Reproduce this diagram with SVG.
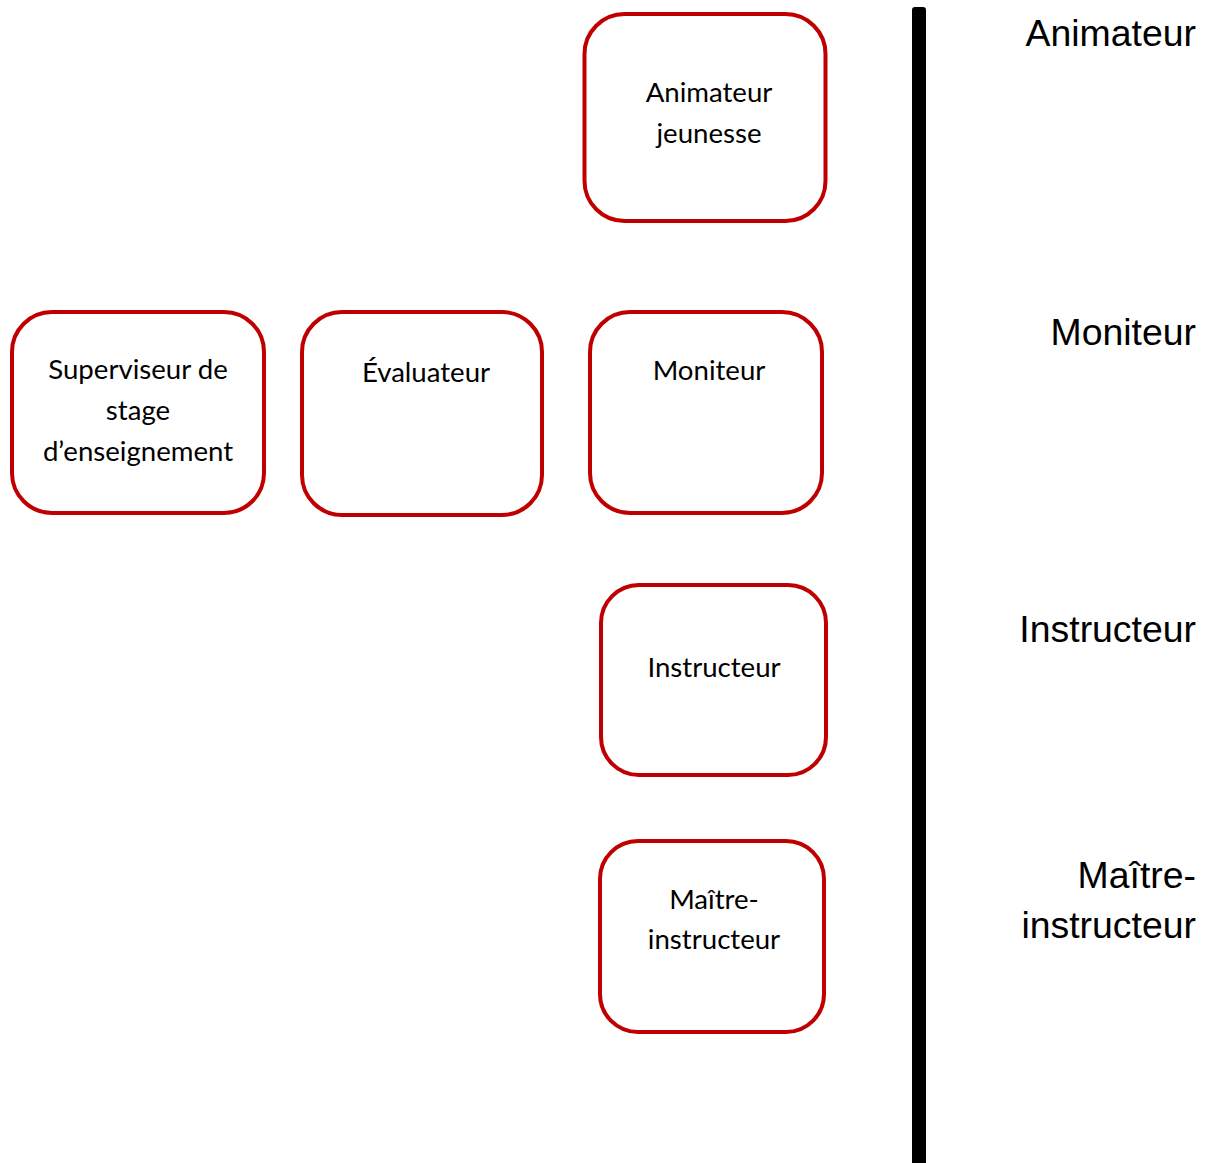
<svg xmlns="http://www.w3.org/2000/svg" width="1210" height="1163" viewBox="0 0 1210 1163">
<style>
.box{fill:#fff;stroke:#C00000;stroke-width:4}
.t{font-family:Lato,"Open Sans",sans-serif;font-size:27.6px;fill:#000;text-anchor:middle}
.lbl{font-family:"Liberation Sans",Arial,sans-serif;font-size:37.4px;fill:#000;text-anchor:end}
</style>
<rect width="1210" height="1163" fill="#fff"/>
<g id="scale">
<rect x="912" y="7" width="14" height="1170" rx="3" fill="#000"/>
<text class="lbl" x="1196" y="46">Animateur</text>
<text class="lbl" x="1196" y="345">Moniteur</text>
<text class="lbl" x="1196" y="642">Instructeur</text>
<text class="lbl" x="1196" y="888">Maître-</text>
<text class="lbl" x="1196" y="938">instructeur</text>
</g>
<g id="connectors"></g>
<g id="n-animateur">
<rect class="box" x="584.5" y="14" width="241" height="207" rx="40"/>
<text class="t" x="709" y="102">Animateur</text>
<text class="t" x="709" y="143">jeunesse</text>
</g>
<g id="n-superviseur">
<rect class="box" x="12" y="312" width="252" height="201" rx="40"/>
<text class="t" x="138" y="379">Superviseur de</text>
<text class="t" x="138" y="420">stage</text>
<text class="t" x="138" y="461">d’enseignement</text>
</g>
<g id="n-evaluateur">
<rect class="box" x="302" y="312" width="240" height="203" rx="40"/>
<text class="t" x="426" y="382">Évaluateur</text>
</g>
<g id="n-moniteur">
<rect class="box" x="590" y="312" width="232" height="201" rx="40"/>
<text class="t" x="709" y="380">Moniteur</text>
</g>
<g id="n-instructeur">
<rect class="box" x="601" y="585" width="225" height="190" rx="38"/>
<text class="t" x="714" y="677">Instructeur</text>
</g>
<g id="n-maitre">
<rect class="box" x="600" y="841" width="224" height="191" rx="38"/>
<text class="t" x="714" y="909">Maître-</text>
<text class="t" x="714" y="949">instructeur</text>
</g>
</svg>
